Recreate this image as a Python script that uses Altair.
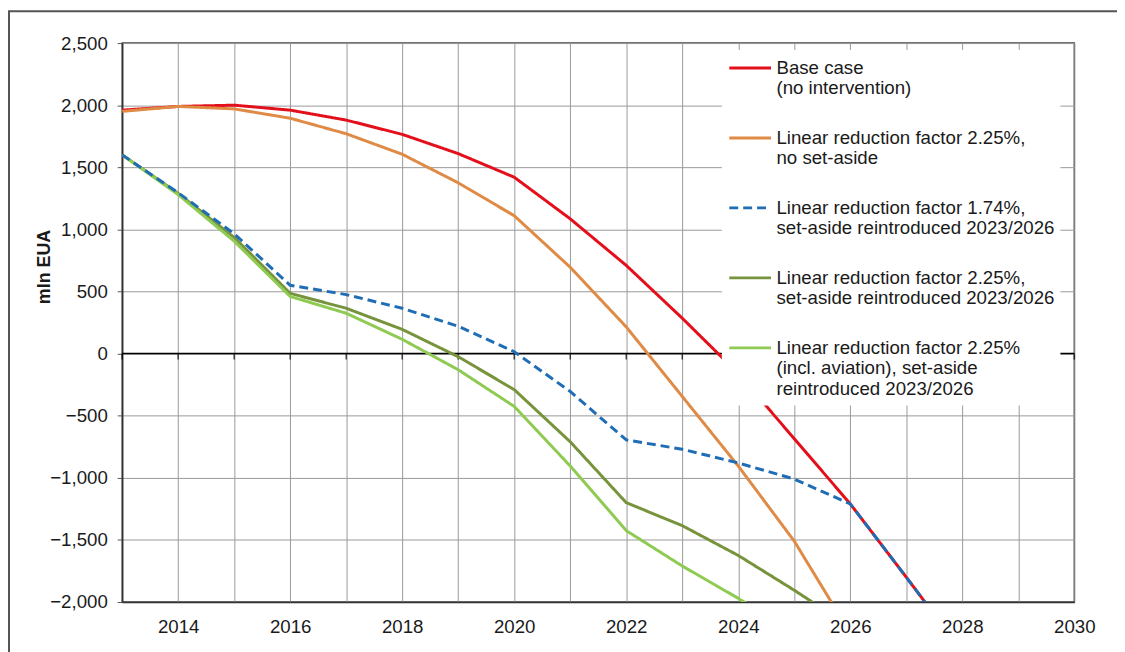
import altair as alt
import pandas as pd

years = list(range(2013, 2029))
axis_years = list(range(2013, 2031))

series_names = [
    "Base case\n(no intervention)",
    "Linear reduction factor 2.25%,\nno set-aside",
    "Linear reduction factor 1.74%,\nset-aside reintroduced 2023/2026",
    "Linear reduction factor 2.25%,\nset-aside reintroduced 2023/2026",
    "Linear reduction factor 2.25%\n(incl. aviation), set-aside\nreintroduced 2023/2026",
]
series_colors = ["#E3101B", "#DF8A45", "#1F6DB4", "#77933C", "#8FCB52"]
series_dash = [[1, 0], [1, 0], [9, 5], [1, 0], [1, 0]]

base_case = [1960, 1990, 2000, 1960, 1880, 1765, 1610, 1420, 1085, 710, 285, -160, -685, -1210, -1800, -2400]
lrf225_no_setaside = [1950, 1990, 1970, 1895, 1770, 1605, 1375, 1110, 695, 215, -345, -905, -1510, -2250]
lrf174_setaside = [1600, 1295, 965, 550, 475, 365, 220, 15, -305, -695, -770, -880, -1010, -1210, -1800, -2400]
lrf225_setaside = [1600, 1290, 935, 485, 365, 195, -25, -290, -710, -1200, -1385, -1625, -1905, -2200]
lrf225_aviation = [1600, 1280, 905, 460, 325, 115, -130, -425, -905, -1425, -1710, -1970, -2250]

all_values = [base_case, lrf225_no_setaside, lrf174_setaside, lrf225_setaside, lrf225_aviation]

rows = []
for name, vals in zip(series_names, all_values):
    for yr, v in zip(years, vals):
        rows.append({"year": yr, "value": v, "series": name})
df = pd.DataFrame(rows)
ticks_df = pd.DataFrame({"year": axis_years})

FONT = "Liberation Sans"
FS = 18.8

legend = alt.Legend(
    orient="none", legendX=604, legendY=7, fillColor="white", padding=6,
    title=None, symbolType="M-2,0H2", symbolSize=441, symbolStrokeWidth=3,
    symbolOffset=10.5,
    labelFontSize=FS, labelFont=FONT, labelColor="#1a1a1a", labelLimit=500,
    labelOffset=14.5, rowPadding=27.5,
    labelExpr="split(datum.label, '\\n')",
    labelBaseline="middle",
)

x_enc = alt.X(
    "year:Q",
    scale=alt.Scale(domain=[2013, 2030], nice=False, zero=False),
    axis=alt.Axis(
        values=axis_years, format="d",
        labelExpr="datum.value % 2 == 0 ? datum.label : ''",
        grid=True, gridColor="#999", gridWidth=1, ticks=False,
        domainColor="#333", domainWidth=1.5, labelPadding=16,
        labelFontSize=FS, labelFont=FONT, labelColor="#1a1a1a", title=None,
        labelFlush=False,
    ),
)
y_enc = alt.Y(
    "value:Q",
    scale=alt.Scale(domain=[-2000, 2500], nice=False),
    axis=alt.Axis(
        values=list(range(-2000, 2501, 500)), format=",.0f",
        grid=True, gridColor="#999", gridWidth=1, tickSize=5, tickColor="#555",
        domainColor="#333", domainWidth=1.5, labelPadding=10,
        labelFontSize=FS, labelFont=FONT, labelColor="#1a1a1a",
        title="mln EUA", titleFontSize=18, titleFont=FONT, titleFontWeight="bold",
        titleColor="#1a1a1a", titleX=-78, titleY=225, titleBaseline="middle",
        titleAngle=270, titleAlign="center",
    ),
)
color_enc = alt.Color("series:N", scale=alt.Scale(domain=series_names, range=series_colors), legend=legend)
dash_enc = alt.StrokeDash("series:N", scale=alt.Scale(domain=series_names, range=series_dash), legend=legend)

lines_main = alt.Chart(df[df.series != series_names[2]]).mark_line(strokeWidth=3, clip=True).encode(
    x=x_enc, y=y_enc, color=color_enc, strokeDash=dash_enc, detail="series:N"
)
lines_blue = alt.Chart(df[df.series == series_names[2]]).mark_line(strokeWidth=3, clip=True).encode(
    x=x_enc, y=y_enc, color=color_enc, strokeDash=dash_enc
)

one = alt.Data(values=[{"a": 1}])
zero_line = alt.Chart(one).mark_rule(color="black", strokeWidth=1.5).encode(y=alt.datum(0))
zero_ticks = alt.Chart(ticks_df).mark_tick(
    orient="vertical", size=6, thickness=1.5, color="black", yOffset=3
).encode(x="year:Q", y=alt.datum(0))
frame = alt.Chart(one).mark_rect(fillOpacity=0, stroke="#555", strokeWidth=2, clip=False).encode(
    x=alt.value(-114), x2=alt.value(1300), y=alt.value(-32), y2=alt.value(800)
)

chart = alt.layer(zero_line, zero_ticks, lines_main, lines_blue, frame).properties(
    width=959, height=563,
    autosize=alt.AutoSizeParams(type="none"),
    padding={"left": 115, "top": 33, "right": 43, "bottom": 48},
    background="white",
).configure_view(stroke="#444", strokeWidth=1.5)

chart.save("out.html", embed_options={"renderer": "svg", "actions": False})
